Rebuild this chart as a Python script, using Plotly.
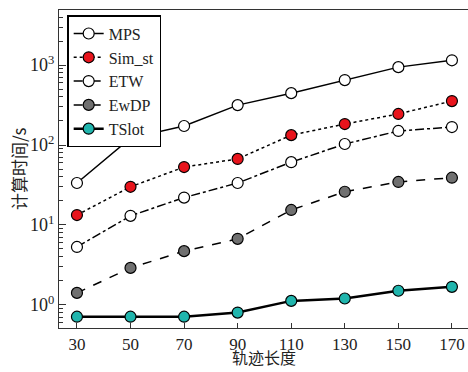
import plotly.graph_objects as go

x_vals = [30, 50, 70, 90, 110, 130, 150, 170]
mps = [33.5, 122, 173, 316, 446, 650, 944, 1150]
sim_st = [13.3, 30, 53, 67, 133, 183, 245, 355]
etw = [5.3, 13, 22, 33.5, 61, 103, 150, 168]
ewdp = [1.41, 2.9, 4.7, 6.7, 15.4, 26, 34.5, 39]
tslot = [0.71, 0.71, 0.71, 0.8, 1.12, 1.2, 1.5, 1.68]

x_title = "轨迹长度"
y_title = "计算时间/s"

series = [
    ("MPS", mps, "solid", "white", 1.5),
    ("Sim_st", sim_st, "dot", "#e8141c", 1.5),
    ("ETW", etw, "dashdot", "white", 1.5),
    ("EwDP", ewdp, "dash", "#707070", 1.5),
    ("TSlot", tslot, "solid", "#20b5ad", 2.5),
]

FONT = "Liberation Serif"
CJK = "Noto Sans CJK SC"

fig = go.Figure()
for name, ys, dash, color, lw in series:
    fig.add_trace(go.Scatter(
        x=x_vals, y=ys, name=name, mode="lines+markers",
        line=dict(color="black", width=lw, dash=dash),
        marker=dict(size=11, color=color, line=dict(color="black", width=1.2)),
    ))

minor_vals = [m * 10 ** e for e in range(-1, 4) for m in range(2, 10)]

fig.update_layout(
    width=468, height=372,
    margin=dict(l=59, r=0, t=10, b=44),
    plot_bgcolor="white", paper_bgcolor="white",
    font=dict(family=FONT, size=18, color="#222"),
    showlegend=True,
    legend=dict(
        x=0.02, y=0.984, xanchor="left", yanchor="top",
        bgcolor="white", bordercolor="black", borderwidth=1.5,
        font=dict(family=FONT, size=16, color="#222"),
        itemwidth=30, tracegroupgap=0,
    ),
    xaxis=dict(
        range=[23.3, 176], tickvals=x_vals,
        ticks="inside", ticklen=5, tickcolor="#333",
        showline=True, linecolor="#333", linewidth=1.2, mirror=True,
        showgrid=False, zeroline=False,
        tickfont=dict(family=FONT, size=17),
    ),
    yaxis=dict(
        type="log", range=[-0.29, 3.69],
        tickvals=[1, 10, 100, 1000],
        ticktext=["10<sup>0</sup>", "10<sup>1</sup>", "10<sup>2</sup>", "10<sup>3</sup>"],
        ticks="inside", ticklen=7, tickcolor="#333",
        minor=dict(tickvals=minor_vals, ticks="inside", ticklen=4, tickcolor="#333"),
        showline=True, linecolor="#333", linewidth=1.2,
        showgrid=False, zeroline=False,
        tickfont=dict(family=FONT, size=18),
    ),
    annotations=[
        dict(text=x_title, xref="paper", yref="paper", x=0.5, y=-0.135,
             xanchor="center", yanchor="bottom", showarrow=False,
             font=dict(family=CJK, size=16, color="#222")),
        dict(text=y_title, xref="paper", yref="paper", x=-0.1, y=0.5,
             xanchor="center", yanchor="middle", showarrow=False, textangle=-90,
             font=dict(family=CJK, size=17, color="#222")),
    ],
)

fig.write_html("out.html")
